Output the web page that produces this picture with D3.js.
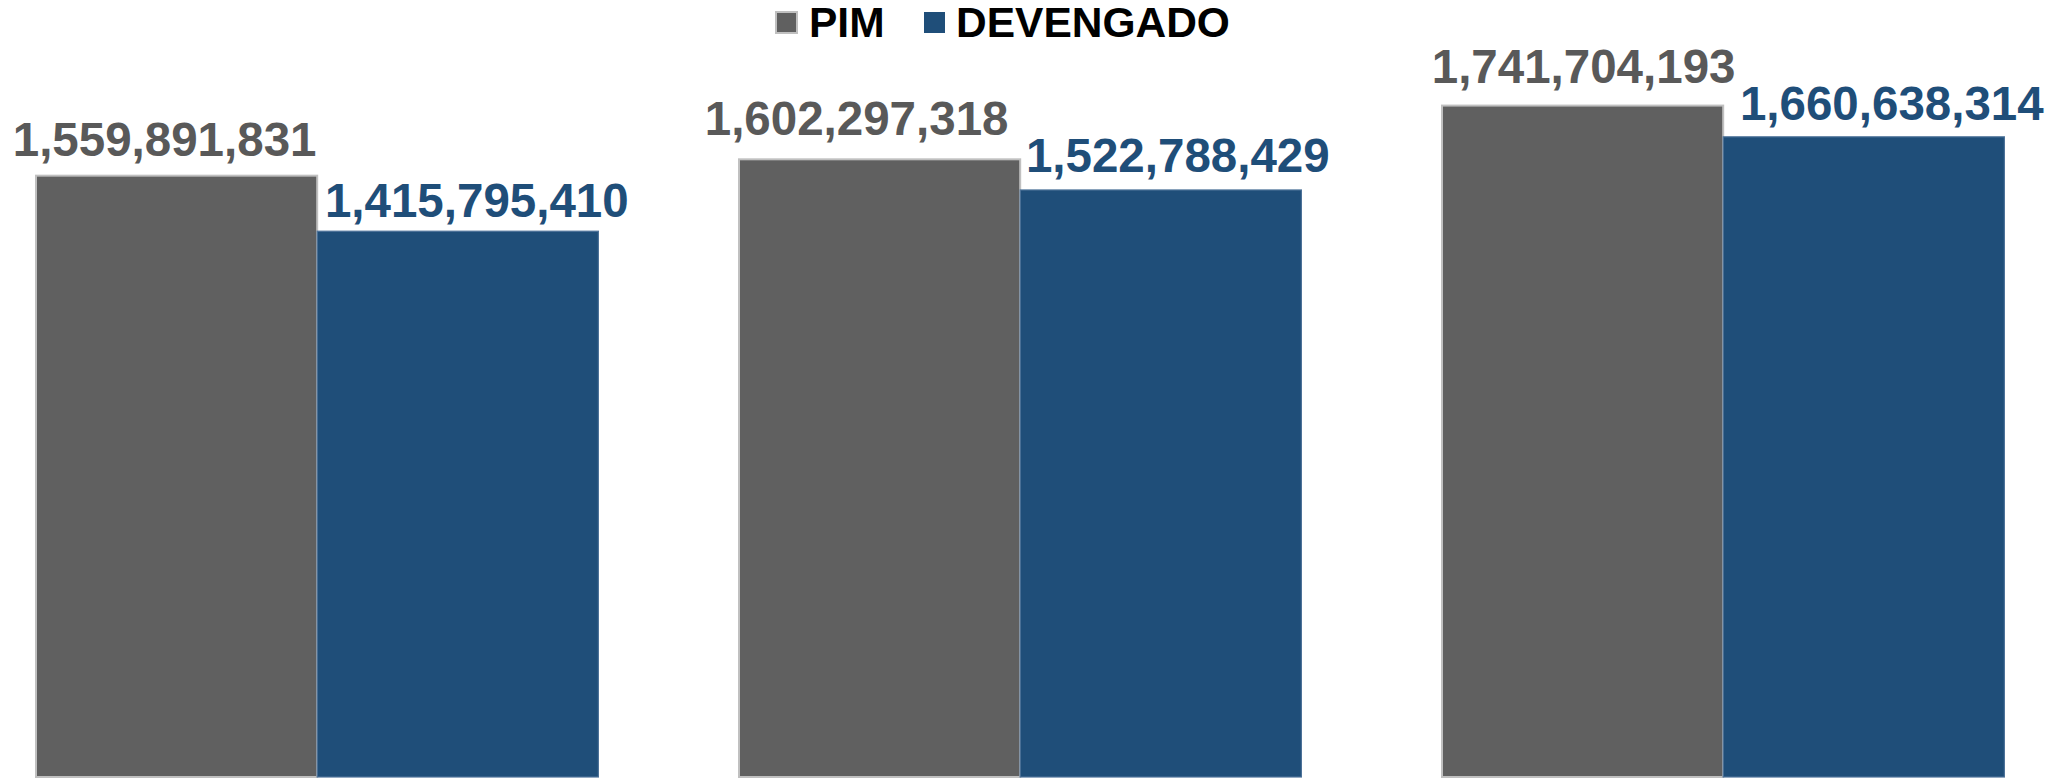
<!DOCTYPE html>
<html>
<head>
<meta charset="utf-8">
<script src="https://cdn.jsdelivr.net/npm/d3@7"></script>
<style>
  html, body { margin: 0; padding: 0; background: #fff; }
  svg { display: block; }
  text { font-family: "Liberation Sans", Arial, sans-serif; font-weight: bold; }
</style>
</head>
<body>
<svg id="chart" width="2069" height="779"></svg>
<script>
const categories = ["2021", "2022", "2023"];
const seriesNames = ["PIM", "DEVENGADO"];
const pimValues = [1559891831, 1602297318, 1741704193];
const devengadoValues = [1415795410, 1522788429, 1660638314];

// label placement tweaks (pixels), per category [PIM, DEVENGADO]
const labelDx = [[-12, 19], [-23, 17], [1, 28]];
const labelDy = [[-20, -14], [-24, -18], [-23, -17]];

const colors = { PIM: "#606060", DEVENGADO: "#1F4E79" };
const strokes = { PIM: "#c0c0c0", DEVENGADO: "#4d7299" };
const labelColors = { PIM: "#595959", DEVENGADO: "#1F4E79" };

const data = categories.map((c, i) => ({
  cat: c,
  values: [
    { key: "PIM", value: pimValues[i], dx: labelDx[i][0], dy: labelDy[i][0] },
    { key: "DEVENGADO", value: devengadoValues[i], dx: labelDx[i][1], dy: labelDy[i][1] }
  ]
}));

const svg = d3.select("#chart");

const x0 = d3.scaleBand().domain(categories).range([-34.3, 2074.7]).paddingInner(0.2).paddingOuter(0.1);
const x1 = d3.scaleBand().domain(seriesNames).range([0, x0.bandwidth()]);
const y = d3.scaleLinear().domain([0, 2000000000]).range([777, 6]);

const fmt = d3.format(",");

const groups = svg.append("g").selectAll("g")
  .data(data).join("g")
  .attr("transform", d => `translate(${x0(d.cat)},0)`);

groups.selectAll("rect")
  .data(d => d.values).join("rect")
  .attr("x", d => x1(d.key))
  .attr("y", d => y(d.value))
  .attr("width", x1.bandwidth())
  .attr("height", d => y(0) - y(d.value))
  .attr("fill", d => colors[d.key])
  .attr("stroke", d => strokes[d.key])
  .attr("stroke-width", d => d.key === "PIM" ? 2 : 1.2);

groups.selectAll("text.lbl")
  .data(d => d.values).join("text")
  .attr("class", "lbl")
  .attr("x", d => x1(d.key) + x1.bandwidth() / 2 + d.dx)
  .attr("y", d => y(d.value) + d.dy)
  .attr("text-anchor", "middle")
  .attr("font-size", 47.5)
  .attr("fill", d => labelColors[d.key])
  .text(d => fmt(d.value));

// Legend
const legendItems = [
  { key: "PIM", sx: 776, tx: 809 },
  { key: "DEVENGADO", sx: 924, tx: 956 }
];
const lg = svg.append("g");
lg.selectAll("rect").data(legendItems).join("rect")
  .attr("x", d => d.sx).attr("y", 12)
  .attr("width", 21).attr("height", 21)
  .attr("fill", d => colors[d.key])
  .attr("stroke", d => strokes[d.key])
  .attr("stroke-width", d => d.key === "PIM" ? 2 : 0);
lg.selectAll("text").data(legendItems).join("text")
  .attr("x", d => d.tx).attr("y", 37)
  .attr("font-size", 42.5)
  .attr("fill", "#000")
  .text(d => d.key);
</script>
</body>
</html>
